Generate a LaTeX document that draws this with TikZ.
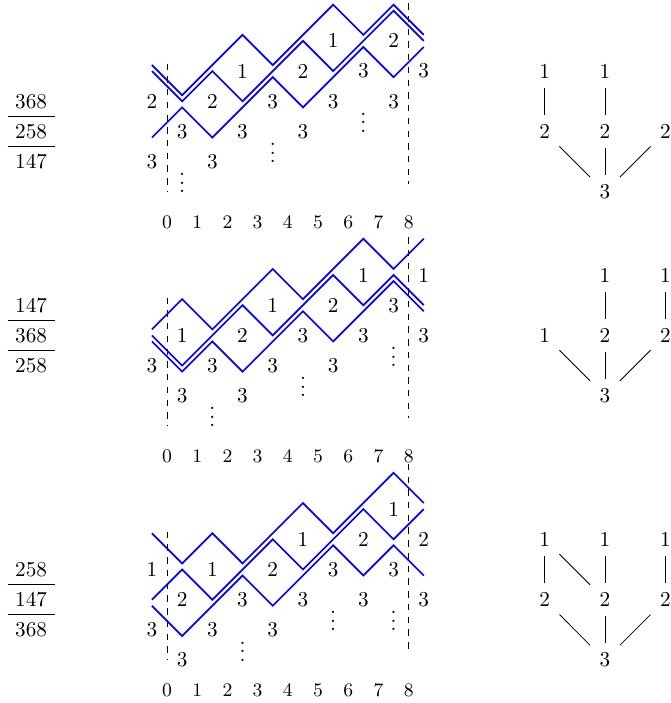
\documentclass[tikz,border=0pt]{standalone}
\begin{document}
\begin{tikzpicture}[x=0.5cm, y=0.5cm, node distance=1cm]
    \tikzstyle{walk} = [blue, thick]
    \tikzstyle{wall} = [dashed]
    \tikzstyle{tick} = [font=\small]
    \tikzstyle{vert} = [inner sep=4.3pt]

    \useasboundingbox (-5.53,-19.92) rectangle (16.655,3.354);

    % first block
    \node (f1a) at (-4.5,0) {368};
    \node (f1b) at (-4.5,-1) {258};
    \node (f1c) at (-4.5,-2) {147};
    \draw (f1a.south west) -- (f1a.south east);
    \draw (f1b.south west) -- (f1b.south east);

    \draw [wall] (0,1.25) -- (0,-3);
    \draw [wall] (8,3.25) -- (8,-2.75);
    \foreach \k in {0,...,8} \node [tick] (c1\k) at (\k,-4) {\k};

    \draw [walk, yshift=1mm] (-0.5,1) -- (0.5,0) -- (2.5,2) -- (3.5,1) -- (5.5,3) -- (6.5,2) -- (7.5,3) -- (8.5,2);
    \draw [walk] (-0.5,1) -- (0.5,0) -- (1.5,1) -- (2.5,0) -- (4.5,2) -- (5.5,1) -- (7.5,3) -- (8.5,2);
    \draw [walk, yshift=-1mm] (-0.5,-1) -- (0.5,0) -- (1.5,-1) -- (3.5,1) -- (4.5,0) -- (6.5,2) -- (7.5,1) -- (8.5,2);

    \foreach \x/\y/\t [count=\i] in {-0.5/0/2, 1.5/0/2, 3.5/0/3, 5.5/0/3, 7.5/0/3,
        2.5/1/1, 4.5/1/2, 6.5/1/3, 8.5/1/3, 5.5/2/1, 7.5/2/2,
        0.5/-1/3, 2.5/-1/3, 4.5/-1/3, -0.5/-2/3, 1.5/-2/3}
        \node (e1\i) at (\x,\y) {\t};
    \foreach \x/\y [count=\i] in {0.5/-2.5, 3.5/-1.5, 6.5/-0.5}
        \node (d1\i) at (\x,\y) {$\vdots$};

    \node [vert] (t1a) at (12.5,1) {1};
    \node [vert, right of=t1a] (t1b) {1};
    \node [vert, below of=t1a] (t1c) {2};
    \node [vert, below of=t1b] (t1d) {2};
    \node [vert, right of=t1d] (t1e) {2};
    \node [vert, below of=t1d] (t1f) {3};
    \draw (t1a) -- (t1c);
    \draw (t1b) -- (t1d);
    \draw (t1c) -- (t1f);
    \draw (t1d) -- (t1f);
    \draw (t1e) -- (t1f);

    % second block
    \begin{scope}[yshift=-3.875cm]
    \node (f2a) at (-4.5,1) {147};
    \node (f2b) at (-4.5,0) {368};
    \node (f2c) at (-4.5,-1) {258};
    \draw (f2a.south west) -- (f2a.south east);
    \draw (f2b.south west) -- (f2b.south east);

    \draw [wall] (0,1.25) -- (0,-3);
    \draw [wall] (8,3.25) -- (8,-2.75);
    \foreach \k in {0,...,8} \node [tick] (c2\k) at (\k,-4) {\k};

    \draw [walk, yshift=1mm] (-0.5,0) -- (0.5,1) -- (1.5,0) -- (3.5,2) -- (4.5,1) -- (6.5,3) -- (7.5,2) -- (8.5,3);
    \draw [walk] (-0.5,0) -- (0.5,-1) -- (2.5,1) -- (3.5,0) -- (5.5,2) -- (6.5,1) -- (7.5,2) -- (8.5,1);
    \draw [walk, yshift=-1mm] (-0.5,0) -- (0.5,-1) -- (1.5,0) -- (2.5,-1) -- (4.5,1) -- (5.5,0) -- (7.5,2) -- (8.5,1);

    \foreach \x/\y/\t [count=\i] in {0.5/0/1, 2.5/0/2, 4.5/0/3, 6.5/0/3, 8.5/0/3,
        3.5/1/1, 5.5/1/2, 7.5/1/3, 6.5/2/1, 8.5/2/1,
        -0.5/-1/3, 1.5/-1/3, 3.5/-1/3, 5.5/-1/3, 0.5/-2/3, 2.5/-2/3}
        \node (e2\i) at (\x,\y) {\t};
    \foreach \x/\y [count=\i] in {1.5/-2.5, 4.5/-1.5, 7.5/-0.5}
        \node (d2\i) at (\x,\y) {$\vdots$};

    \node [vert] (t2a) at (14.5,2) {1};
    \node [vert, right of=t2a] (t2b) {1};
    \node [vert, below of=t2a] (t2d) {2};
    \node [vert, left of=t2d] (t2c) {1};
    \node [vert, right of=t2d] (t2e) {2};
    \node [vert, below of=t2d] (t2f) {3};
    \draw (t2a) -- (t2d);
    \draw (t2b) -- (t2e);
    \draw (t2c) -- (t2f);
    \draw (t2d) -- (t2f);
    \draw (t2e) -- (t2f);
    \end{scope}

    % third block
    \begin{scope}[yshift=-7.75cm]
    \node (f3a) at (-4.5,0) {258};
    \node (f3b) at (-4.5,-1) {147};
    \node (f3c) at (-4.5,-2) {368};
    \draw (f3a.south west) -- (f3a.south east);
    \draw (f3b.south west) -- (f3b.south east);

    \draw [wall] (0,1.25) -- (0,-3);
    \draw [wall] (8,3.5) -- (8,-2.75);
    \foreach \k in {0,...,8} \node [tick] (c3\k) at (\k,-4) {\k};

    \draw [walk, yshift=1mm] (-0.5,1) -- (0.5,0) -- (1.5,1) -- (2.5,0) -- (4.5,2) -- (5.5,1) -- (7.5,3) -- (8.5,2);
    \draw [walk] (-0.5,-1) -- (0.5,0) -- (1.5,-1) -- (3.5,1) -- (4.5,0) -- (6.5,2) -- (7.5,1) -- (8.5,2);
    \draw [walk, yshift=-1mm] (-0.5,-1) -- (0.5,-2) -- (2.5,0) -- (3.5,-1) -- (5.5,1) -- (6.5,0) -- (7.5,1) -- (8.5,0);

    \foreach \x/\y/\t [count=\i] in {-0.5/0/1, 1.5/0/1, 3.5/0/2, 5.5/0/3, 7.5/0/3,
        4.5/1/1, 6.5/1/2, 8.5/1/2, 7.5/2/1,
        0.5/-1/2, 2.5/-1/3, 4.5/-1/3, 6.5/-1/3, 8.5/-1/3,
        -0.5/-2/3, 1.5/-2/3, 3.5/-2/3, 0.5/-3/3}
        \node (e3\i) at (\x,\y) {\t};
    \foreach \x/\y [count=\i] in {2.5/-2.5, 5.5/-1.5, 7.5/-1.5}
        \node (d3\i) at (\x,\y) {$\vdots$};

    \node [vert] (t3a) at (12.5,1) {1};
    \node [vert, right of=t3a] (t3b) {1};
    \node [vert, right of=t3b] (t3c) {1};
    \node [vert, below of=t3a] (t3d) {2};
    \node [vert, below of=t3b] (t3e) {2};
    \node [vert, below of=t3c] (t3f) {2};
    \node [vert, below of=t3e] (t3g) {3};
    \draw (t3a) -- (t3d);
    \draw (t3a) -- (t3e);
    \draw (t3b) -- (t3e);
    \draw (t3c) -- (t3f);
    \draw (t3d) -- (t3g);
    \draw (t3e) -- (t3g);
    \draw (t3f) -- (t3g);
    \end{scope}
\end{tikzpicture}
\end{document}
